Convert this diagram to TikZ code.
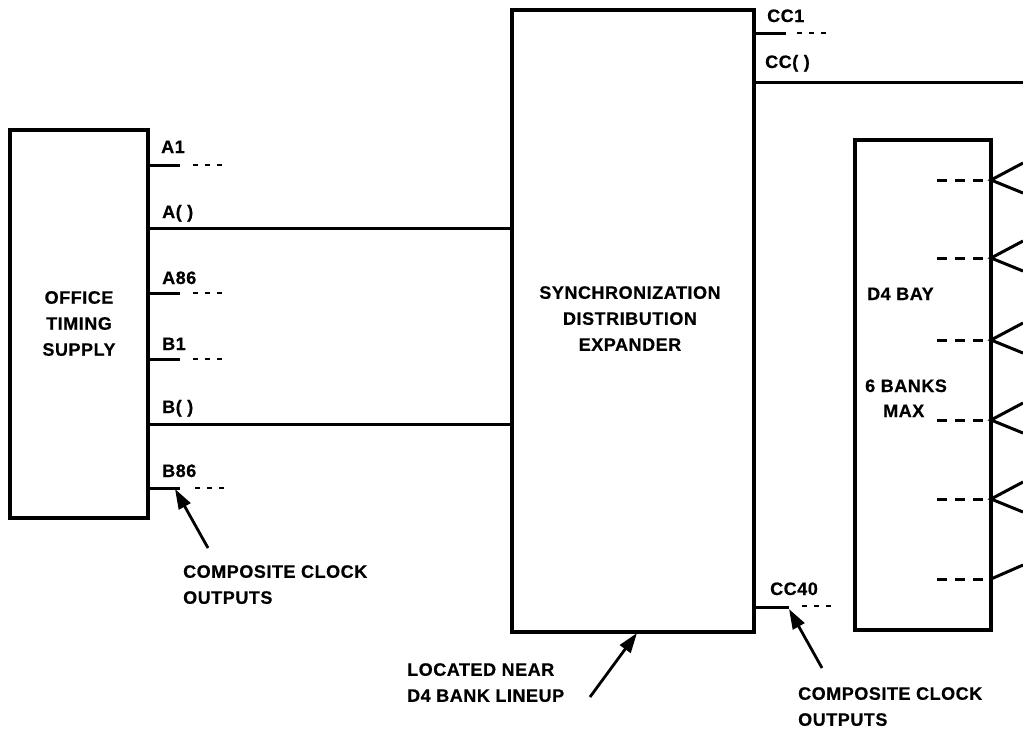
\documentclass[tikz,border=0pt]{standalone}
\usepackage{fontspec}
\setmainfont{Liberation Sans}[LetterSpace=3]
\newfontfamily\plotfont{Liberation Sans}[LetterSpace=3, BoldFeatures={FakeBold=0.6}]
\usetikzlibrary{arrows.meta,calc}
\tikzset{
  box/.style={draw, line width=3.2pt, inner sep=0pt},
  wire/.style={line width=3pt},
  dots/.style={line width=2.6pt, dash pattern=on 5pt off 7pt},
  bdots/.style={line width=3pt, dash pattern=on 10pt off 8pt},
  vline/.style={line width=3pt},
  lab/.style={inner sep=0pt, anchor=base west, font=\plotfont\bfseries\fontsize{18}{26}\selectfont},
  txt/.style={inner sep=0pt, font=\plotfont\bfseries\fontsize{18}{26}\selectfont},
  pointer/.style={line width=2.8pt, -{Triangle[length=20pt,width=13pt]}},
}
\begin{document}
\begin{tikzpicture}[x=1pt,y=-1pt]
\useasboundingbox (0,0) rectangle (1023,729);
% boxes
\node[box, minimum width=138pt, minimum height=388pt] (ots) at (79,324) {};
\node[box, minimum width=242pt, minimum height=622pt] (sde) at (633,321) {};
\node[box, minimum width=136pt, minimum height=490pt] (d4) at (923,385) {};
% box texts
\node[txt, align=center] (otst) at (79,323.5) {OFFICE\\TIMING\\SUPPLY};
\node[txt, align=center] (sdet) at (630,318.5) {SYNCHRONIZATION\\DISTRIBUTION\\EXPANDER};
\node[lab] (bay) at (867,300) {D4 BAY};
\node[lab] (banks) at (865,392) {6 BANKS};
\node[lab] (max) at (883,417) {MAX};
% left outputs
\node[lab] (la1) at (161,153) {A1};
\node[lab] (lap) at (162,218) {A( )};
\node[lab] (la86) at (162,284) {A86};
\node[lab] (lb1) at (162,350) {B1};
\node[lab] (lbp) at (162,413) {B( )};
\node[lab] (lb86) at (162,477) {B86};
\coordinate (a1s) at (180,165); \coordinate (a1d) at (193,165); \coordinate (a1e) at (223,165);
\coordinate (a86s) at (180,293); \coordinate (a86d) at (193,293); \coordinate (a86e) at (223,293);
\coordinate (b1s) at (180,359); \coordinate (b1d) at (193,359); \coordinate (b1e) at (223,359);
\coordinate (b86s) at (180,488); \coordinate (b86d) at (195,488); \coordinate (b86e) at (225,488);
\draw[wire] (ots.east |- a1s) -- (a1s);
\draw[dots] (a1d) -- (a1e);
\draw[wire] (ots.east |- 0,228) -- (sde.west |- 0,228);
\draw[wire] (ots.east |- a86s) -- (a86s);
\draw[dots] (a86d) -- (a86e);
\draw[wire] (ots.east |- b1s) -- (b1s);
\draw[dots] (b1d) -- (b1e);
\draw[wire] (ots.east |- 0,424) -- (sde.west |- 0,424);
\draw[wire] (ots.east |- b86s) -- (b86s);
\draw[dots] (b86d) -- (b86e);
% right outputs of SDE
\node[lab] (lcc1) at (767,22) {CC1};
\node[lab] (lccp) at (765,68) {CC( )};
\node[lab] (lcc40) at (770,595) {CC40};
\coordinate (c1s) at (786,33); \coordinate (c1d) at (797,33); \coordinate (c1e) at (827,33);
\coordinate (cpe) at (1023,82);
\coordinate (c40s) at (789,607); \coordinate (c40d) at (802,606); \coordinate (c40e) at (832,606);
\draw[wire] (sde.east |- c1s) -- (c1s);
\draw[dots] (c1d) -- (c1e);
\draw[wire] (sde.east |- cpe) -- (cpe);
\draw[wire] (sde.east |- c40s) -- (c40s);
\draw[dots] (c40d) -- (c40e);
% D4 bay entries
\foreach \yy/\nm in {180/p1,258/p2,340/p3,420/p4,499/p5,579/p6}{
  \coordinate (\nm) at (991,\yy);
  \coordinate (\nm d) at (937,\yy);
  \draw[bdots] (\nm d) -- (\nm);
}
\foreach \nm in {p1,p2,p3,p4,p5}{
  \draw[vline] ($(\nm)+(32,-17)$) -- (\nm) -- ($(\nm)+(32,13)$);
}
\draw[vline] (p6) -- ($(p6)+(32,-14)$);
% annotations
\node[txt, align=left, anchor=north west] (ccl) at (183,565) {COMPOSITE CLOCK\\OUTPUTS};
\node[txt, align=left, anchor=north west] (ccr) at (798,687) {COMPOSITE CLOCK\\OUTPUTS};
\node[txt, align=left, anchor=north west] (loc) at (407,663) {LOCATED NEAR\\D4 BANK LINEUP};
\coordinate (t1) at (208,548); \coordinate (h1) at (175,489);
\coordinate (t2) at (590,697); \coordinate (h2) at (637,633);
\coordinate (t3) at (822,668); \coordinate (h3) at (789,609);
\draw[pointer] (t1) -- (h1);
\draw[pointer] (t2) -- (h2);
\draw[pointer] (t3) -- (h3);
\end{tikzpicture}
\end{document}
